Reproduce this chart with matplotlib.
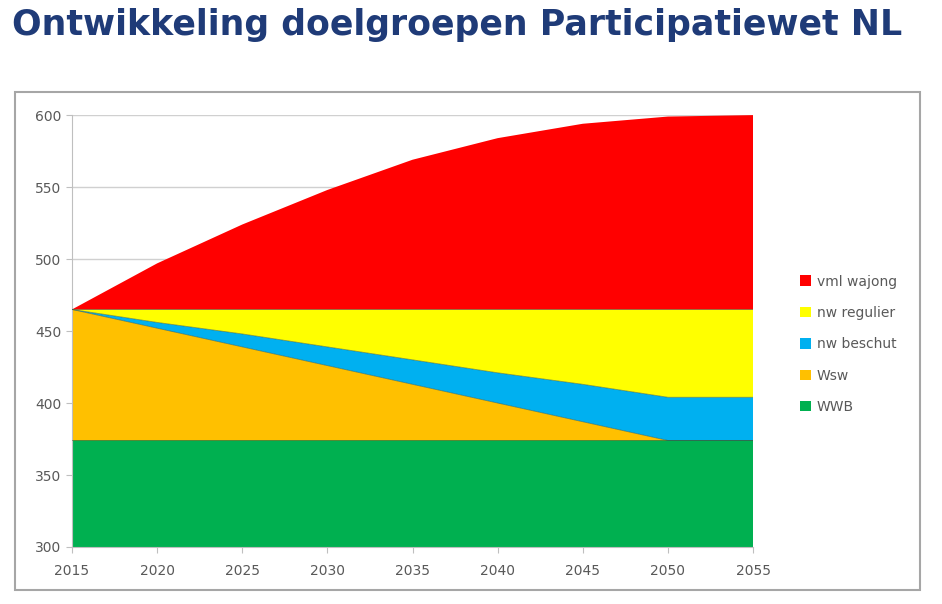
import numpy as np
import matplotlib.pyplot as plt
from matplotlib.patches import Rectangle

years = [2015, 2020, 2025, 2030, 2035, 2040, 2045, 2050, 2055]
wwb = [374, 374, 374, 374, 374, 374, 374, 374, 374]
wsw = [91, 78, 65, 52, 39, 26, 13, 0, 0]
nw_beschut = [0, 4, 9, 13, 17, 21, 26, 30, 30]
nw_regulier = [0, 9, 17, 26, 35, 44, 52, 61, 61]
vml_wajong = [0, 32, 59, 83, 104, 119, 129, 134, 135]

labels = ['WWB', 'Wsw', 'nw beschut', 'nw regulier', 'vml wajong']
colors = ['#00B050', '#FFC000', '#00B0F0', '#FFFF00', '#FF0000']

fig = plt.figure(figsize=(9.42, 6.04), dpi=100)

# kader rond de grafiek
fig.patches.append(Rectangle((0.016, 0.023), 0.961, 0.825, transform=fig.transFigure,
                             fill=False, edgecolor='#A6A6A6', linewidth=1.5))

fig.text(0.013, 0.958, 'Ontwikkeling doelgroepen Participatiewet NL', fontsize=25,
         fontweight='bold', color='#1F3B78', va='center', ha='left')

ax = fig.add_axes([0.0764, 0.0944, 0.723, 0.715])
polys = ax.stackplot(years, wwb, wsw, nw_beschut, nw_regulier, vml_wajong,
                     colors=colors, labels=labels, edgecolor='none', zorder=2)
# donkere randlijnen tussen de vlakken
tops = np.cumsum([wwb, wsw, nw_beschut, nw_regulier], axis=0)
for t in tops:
    ax.plot(years, t, color='#3a5a3a', linewidth=0.6, alpha=0.6, zorder=3)

ax.set_xlim(2015, 2055)
ax.set_ylim(300, 600)
ax.set_xticks(years)
ax.set_yticks(range(300, 601, 50))
ax.yaxis.grid(True, color='#D0D0D0', linewidth=1, zorder=0)
ax.set_axisbelow(True)
for s in ['top', 'right']:
    ax.spines[s].set_visible(False)
for s in ['left', 'bottom']:
    ax.spines[s].set_color('#BFBFBF')
ax.tick_params(colors='#BFBFBF', labelcolor='#595959', labelsize=10, length=4)
ax.tick_params(axis='x', pad=8)

h, l = ax.get_legend_handles_labels()
fig.legend(h[::-1], l[::-1], loc='center left', bbox_to_anchor=(0.836, 0.43),
           frameon=False, fontsize=10, labelspacing=1.25, handlelength=0.8,
           handleheight=0.8, handletextpad=0.4, labelcolor='#595959')

fig.savefig('out.png', dpi=100)
